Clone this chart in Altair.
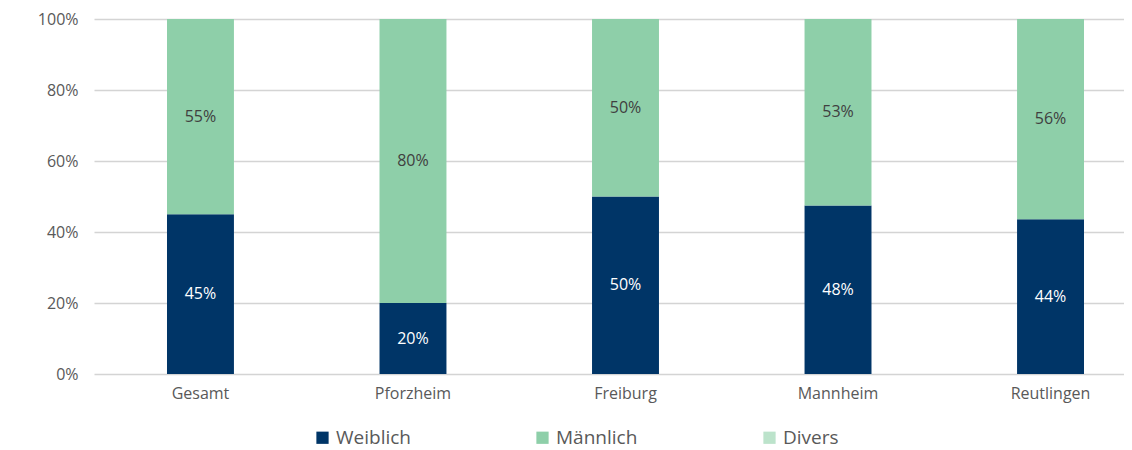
import altair as alt
import pandas as pd

standorte = ["Gesamt", "Pforzheim", "Freiburg", "Mannheim", "Reutlingen"]
weiblich = [45, 20, 50, 47.5, 43.6]
maennlich = [55, 80, 50, 52.5, 56.4]
divers = [0, 0, 0, 0, 0]
gruppen = ["Weiblich", "Männlich", "Divers"]
farben = ["#003567", "#8ECFA9", "#BCE3CB"]
y_ticks = [0, 20, 40, 60, 80, 100]

rows = []
for i, s in enumerate(standorte):
    for k, (g, vals) in enumerate(zip(gruppen, [weiblich, maennlich, divers])):
        rows.append({"Standort": s, "Gruppe": g, "Wert": vals[i], "Ordnung": k})
df = pd.DataFrame(rows)

FONT = "Open Sans"

base = alt.Chart(df).transform_stack(
    stack="Wert",
    groupby=["Standort"],
    as_=["y0", "y1"],
    sort=[alt.SortField("Ordnung", order="ascending")],
).transform_calculate(
    mid="(datum.y0 + datum.y1) / 2",
    label="format(datum.Wert, '.0f') + '%'",
)

x_enc = alt.X(
    "Standort:N",
    sort=standorte,
    title=None,
    scale=alt.Scale(range=[0, 1063], paddingInner=0.685, paddingOuter=0.3435),
    axis=alt.Axis(labelAngle=0, domain=False, ticks=False, labelFont=FONT,
                  labelFontSize=16, labelColor="#595959", labelPadding=11),
)

bars = base.mark_bar().encode(
    x=x_enc,
    y=alt.Y("y0:Q", title=None,
            scale=alt.Scale(domain=[0, 100], nice=False),
            axis=alt.Axis(values=y_ticks, labelExpr="datum.value + '%'",
                          domain=False, ticks=False, labelFont=FONT,
                          labelFontSize=16, labelColor="#595959", labelPadding=16,
                          gridColor="#D4D4D4", gridWidth=1.4)),
    y2="y1:Q",
    color=alt.Color("Gruppe:N",
                    scale=alt.Scale(domain=gruppen, range=farben),
                    sort=gruppen,
                    legend=alt.Legend(title=None, orient="none", direction="horizontal",
                                      legendX=219, legendY=409, padding=0,
                                      symbolType="square", symbolSize=150,
                                      symbolStrokeWidth=0, labelFont=FONT,
                                      labelFontSize=19, labelColor="#595959",
                                      labelOffset=4, columnPadding=122)),
)

texts = base.transform_filter("datum.Wert > 0").mark_text(font=FONT, fontSize=16).encode(
    x=alt.X("Standort:N", sort=standorte),
    y=alt.Y("mid:Q"),
    text="label:N",
    color=alt.condition("datum.Gruppe == 'Weiblich'", alt.value("#FFFFFF"), alt.value("#404040")),
)

chart = alt.layer(bars, texts).properties(
    width=1030,
    height=355,
    autosize=alt.AutoSizeParams(type="none"),
    padding={"left": 86, "top": 11, "right": 0, "bottom": 76},
).configure_view(stroke=None)

chart.save("out.html", embed_options={"renderer": "svg", "actions": False})
